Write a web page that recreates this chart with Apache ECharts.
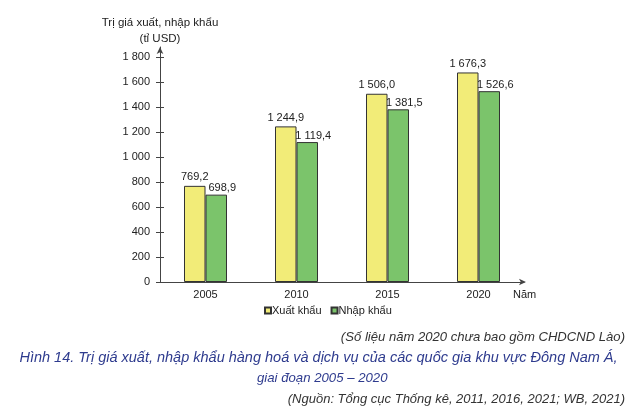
<!DOCTYPE html>
<html><head><meta charset="utf-8">
<script src="https://cdn.jsdelivr.net/npm/echarts@6/dist/echarts.min.js"></script>
<style>html,body{margin:0;padding:0;background:#fff}#c{width:637px;height:410px}</style>
</head><body><div id="c"></div>
<script>
const categories = ['2005', '2010', '2015', '2020'];
const exportValues = [769.2, 1244.9, 1506.0, 1676.3];
const importValues = [698.9, 1119.4, 1381.5, 1526.6];
const yTicks = [0, 200, 400, 600, 800, 1000, 1200, 1400, 1600, 1800];
const seriesNames = ['Xuất khẩu', 'Nhập khẩu'];

function fmtNum(v, dec) {
  const s = v.toFixed(dec).split('.');
  const i = s[0].replace(/\B(?=(\d{3})+(?!\d))/g, ' ');
  return dec ? i + ',' + s[1] : i;
}
const FONT = 'Liberation Sans, Arial, sans-serif';
const CAP = '"Liberation Sans", Arial, sans-serif';
const capStyle = (c, s) => ({fontFamily: CAP, fontStyle: 'italic', fontWeight: 'normal', fontSize: s, color: c});
const chart = echarts.init(document.getElementById('c'));
chart.setOption({
  animation: false,
  textStyle: {fontFamily: FONT},
  title: [
    {text: '(Số liệu năm 2020 chưa bao gồm CHDCND Lào)', right: 12, top: 331, padding: 0, textStyle: capStyle('#333', 13.1)},
    {text: 'Hình 14. Trị giá xuất, nhập khẩu hàng hoá và dịch vụ của các quốc gia khu vực Đông Nam Á,',
     left: 'center', top: 350, padding: 0, textStyle: capStyle('#2e3b8e', 14.5)},
    {text: 'giai đoạn 2005 – 2020', left: 257, top: 372, padding: 0, textStyle: capStyle('#2e3b8e', 13.2)},
    {text: '(Nguồn: Tổng cục Thống kê, 2011, 2016, 2021; WB, 2021)', right: 12, top: 393, padding: 0, textStyle: capStyle('#333', 13)}
  ],
  legend: {
    data: seriesNames, left: 264, top: 305, padding: 0, itemWidth: 6, itemHeight: 6, itemGap: 9,
    textStyle: {fontSize: 11, color: '#222', padding: [0, 0, 0, -4]},
    icon: 'rect'
  },
  grid: {left: 160, right: 113, top: 47, bottom: 128},
  xAxis: {
    type: 'category', data: categories,
    name: 'Năm', nameLocation: 'end', nameGap: -11,
    nameTextStyle: {fontSize: 11, color: '#222', verticalAlign: 'top', padding: [7, 0, 0, 0]},
    axisLine: {lineStyle: {color: '#444', width: 1}, symbol: ['none', 'arrow'], symbolSize: [5, 7], symbolOffset: [0, 2]},
    axisTick: {alignWithLabel: true, length: 3, lineStyle: {color: '#444'}},
    axisLabel: {fontSize: 11, color: '#222', margin: 7}
  },
  yAxis: [{
    type: 'value', min: 0, max: 1880, position: 'left', offset: 0,
    name: 'Trị giá xuất, nhập khẩu\n(tỉ USD)', nameLocation: 'end', nameGap: 0,
    nameTextStyle: {fontSize: 11.5, color: '#222', align: 'center', lineHeight: 16},
    axisLine: {show: true, lineStyle: {color: '#444', width: 1}, symbol: ['none', 'arrow'], symbolSize: [5, 7]},
    axisTick: {show: true, length: 4, customValues: yTicks, lineStyle: {color: '#444'}},
    axisLabel: {customValues: yTicks, fontSize: 11, color: '#222', margin: 10, formatter: v => fmtNum(v, 0)},
    splitLine: {show: false}
  }, {
    type: 'value', min: 0, max: 1880, position: 'left', offset: -4,
    axisLine: {show: false},
    axisTick: {show: true, length: 4, customValues: yTicks, lineStyle: {color: '#444'}},
    axisLabel: {show: false},
    splitLine: {show: false}
  }],
  series: [{
    name: seriesNames[0], type: 'bar', data: exportValues, barWidth: 21.5, barGap: 0,
    itemStyle: {color: '#f2ec78', borderColor: '#333', borderWidth: 1},
    label: {show: true, position: 'top', distance: 3, fontSize: 11, color: '#222', formatter: p => fmtNum(p.value, 1)}
  }, {
    name: seriesNames[1], type: 'bar', data: importValues, barWidth: 21.5, barGap: 0,
    itemStyle: {color: '#7bc46b', borderColor: '#333', borderWidth: 1},
    label: {show: true, position: 'top', distance: 1, offset: [6, 0], fontSize: 11, color: '#222', formatter: p => fmtNum(p.value, 1)}
  }]
});
</script></body></html>
